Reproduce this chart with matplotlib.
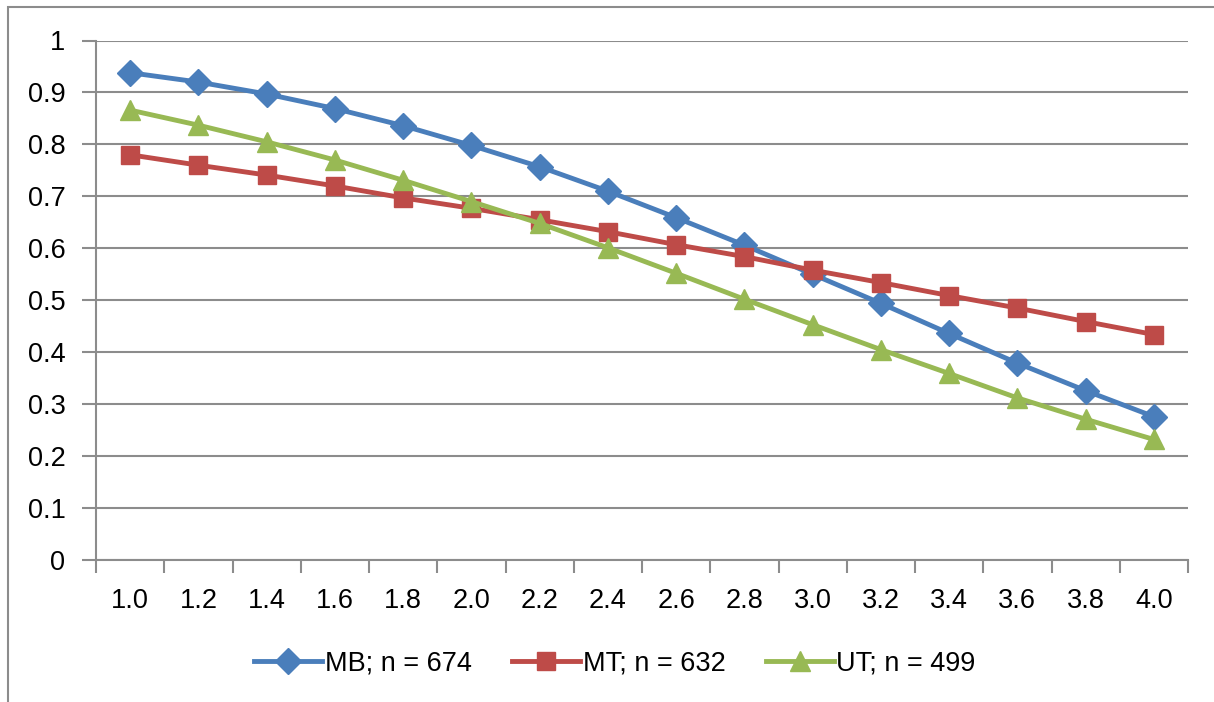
import numpy as np
import matplotlib.pyplot as plt
from matplotlib.patches import Rectangle

plt.rcParams['font.family'] = ['Liberation Sans', 'DejaVu Sans']

# ---------------------------------------------------------------------------
# data
# ---------------------------------------------------------------------------
categories = ["1.0", "1.2", "1.4", "1.6", "1.8", "2.0", "2.2", "2.4",
              "2.6", "2.8", "3.0", "3.2", "3.4", "3.6", "3.8", "4.0"]

mb = [0.938, 0.920, 0.897, 0.869, 0.836, 0.798, 0.757, 0.710,
      0.659, 0.606, 0.550, 0.494, 0.436, 0.379, 0.326, 0.276]
mt = [0.780, 0.760, 0.741, 0.720, 0.697, 0.677, 0.655, 0.632,
      0.607, 0.584, 0.558, 0.534, 0.509, 0.485, 0.459, 0.434]
ut = [0.866, 0.837, 0.805, 0.770, 0.731, 0.690, 0.648, 0.601,
      0.552, 0.502, 0.453, 0.405, 0.359, 0.312, 0.271, 0.232]

series = [
    ("MB; n = 674", mb, "#4A7EBB", "D", 13),
    ("MT; n = 632", mt, "#BE4B48", "s", 13),
    ("UT; n = 499", ut, "#98B954", "^", 14),
]

W, H = 1214, 702
fig = plt.figure(figsize=(W / 100, H / 100), dpi=100)
ax = fig.add_axes([96 / W, 1 - 560 / H, (1188 - 96) / W, (560 - 40.5) / H])

# outer chart border (partly cropped in the reference)
fig.patches.append(Rectangle((8 / W, -0.1), 1.2, (1 - 7 / H) + 0.1,
                             transform=fig.transFigure, fill=False,
                             edgecolor="#8c8c8c", lw=1.5))

x = np.arange(len(categories))
for label, vals, color, marker, ms in series:
    ax.plot(x, vals, color=color, lw=3.5, marker=marker, ms=ms,
            markeredgecolor=color, label=label, zorder=3)

ax.set_xlim(-0.5, len(categories) - 0.5)
ax.set_ylim(0, 1)
ax.set_yticks(np.arange(0, 1.01, 0.1))
ax.set_yticklabels(["0"] + [f"{v:.1f}" for v in np.arange(0.1, 0.95, 0.1)] + ["1"])
ax.set_xticks(x)
ax.set_xticklabels(categories)
ax.set_xticks(np.arange(-0.5, len(categories)), minor=True)

grid_c = "#8c8c8c"
ax.yaxis.grid(True, color=grid_c, lw=1.5)
ax.set_axisbelow(True)
for side in ("top", "right"):
    ax.spines[side].set_visible(False)
for side in ("left", "bottom"):
    ax.spines[side].set_color(grid_c)
    ax.spines[side].set_linewidth(1.5)

ax.tick_params(axis="y", length=10, width=1.5, color=grid_c,
               labelsize=19.5, pad=12)
ax.tick_params(axis="x", which="major", length=0, labelsize=19.5, pad=20)
ax.tick_params(axis="x", which="minor", length=9, width=1.5, color=grid_c)

leg = ax.legend(loc="center", bbox_to_anchor=(615 / W, 1 - 663 / H),
                bbox_transform=fig.transFigure, ncol=3, frameon=False,
                fontsize=19.5, handlelength=2.5, handletextpad=0.1,
                columnspacing=1.5)

fig.savefig("out.png", dpi=100)
